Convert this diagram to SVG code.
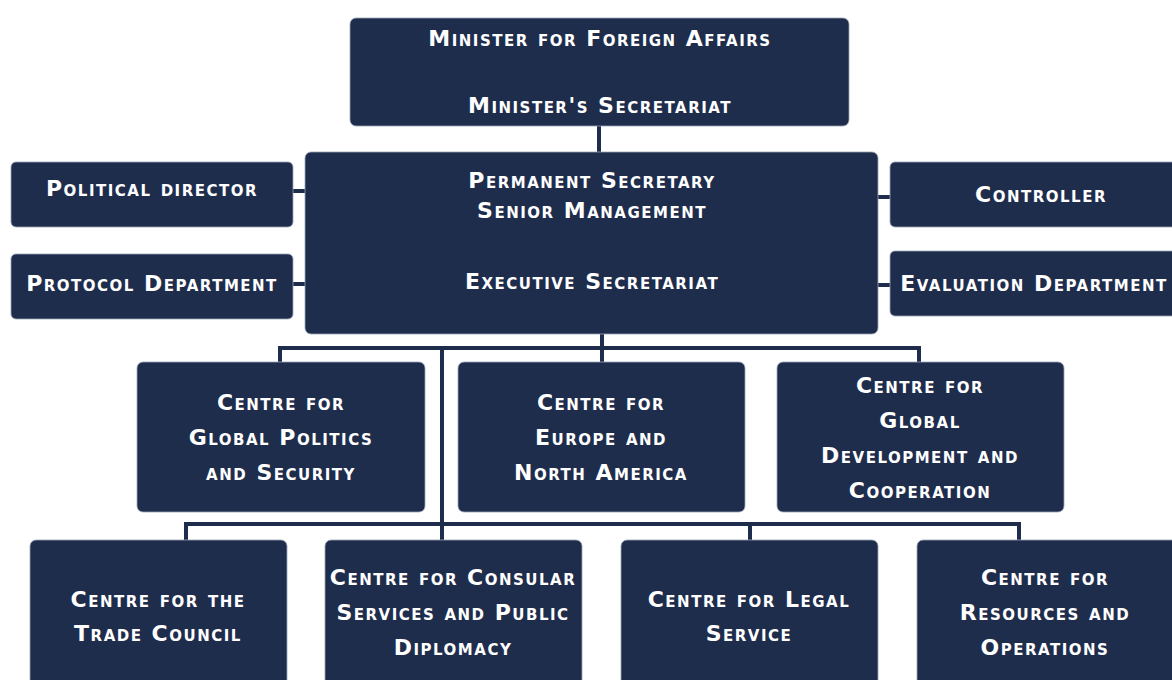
<svg xmlns="http://www.w3.org/2000/svg" width="1172" height="680" viewBox="0 0 1172 680">
<style>
.box{fill:#1f2d4d;stroke:#9aa3b5;stroke-width:0.8}
.t{font-family:"DejaVu Sans",sans-serif;font-weight:bold;font-variant:small-caps;font-size:22px;letter-spacing:1.5px;fill:#ffffff;text-anchor:middle}
.c{fill:none;stroke:#1f2d4d;stroke-width:4}
</style>
<rect width="1172" height="680" fill="#ffffff"/>
<g id="connectors">
<line class="c" x1="599" y1="126" x2="599" y2="153"/>
<line class="c" x1="293" y1="191" x2="306" y2="191"/>
<line class="c" x1="293" y1="284" x2="306" y2="284"/>
<line class="c" x1="877" y1="197" x2="891" y2="197"/>
<line class="c" x1="877" y1="285" x2="891" y2="285"/>
<line class="c" x1="602" y1="333" x2="602" y2="348"/>
<polyline class="c" points="280,363 280,348 919,348 919,363"/>
<line class="c" x1="602" y1="348" x2="602" y2="363"/>
<line class="c" x1="442" y1="348" x2="442" y2="541"/>
<polyline class="c" points="186,541 186,524 1019,524 1019,541"/>
<line class="c" x1="750" y1="524" x2="750" y2="541"/>
</g>
<g id="n-minister">
<rect class="box" x="350" y="18" width="499" height="108" rx="6"/>
<text class="t" x="600" y="46">Minister for Foreign Affairs</text>
<text class="t" x="600" y="113">Minister's Secretariat</text>
</g>
<g id="n-permsec">
<rect class="box" x="305" y="152" width="573" height="182" rx="6"/>
<text class="t" x="592" y="188">Permanent Secretary</text>
<text class="t" x="592" y="218">Senior Management</text>
<text class="t" x="592" y="289">Executive Secretariat</text>
</g>
<g id="n-political">
<rect class="box" x="11" y="162" width="282" height="65" rx="5"/>
<text class="t" x="152" y="196">Political director</text>
</g>
<g id="n-protocol">
<rect class="box" x="11" y="254" width="282" height="65" rx="5"/>
<text class="t" x="152" y="291">Protocol Department</text>
</g>
<g id="n-controller">
<rect class="box" x="890" y="162" width="300" height="65" rx="5"/>
<text class="t" x="1041" y="202">Controller</text>
</g>
<g id="n-evaluation">
<rect class="box" x="890" y="251" width="300" height="65" rx="5"/>
<text class="t" x="1034" y="291">Evaluation Department</text>
</g>
<g id="n-gps">
<rect class="box" x="137" y="362" width="288" height="150" rx="6"/>
<text class="t" x="281" y="410">Centre for</text>
<text class="t" x="281" y="445">Global Politics</text>
<text class="t" x="281" y="480">and Security</text>
</g>
<g id="n-ena">
<rect class="box" x="458" y="362" width="287" height="150" rx="6"/>
<text class="t" x="601" y="410">Centre for</text>
<text class="t" x="601" y="445">Europe and</text>
<text class="t" x="601" y="480">North America</text>
</g>
<g id="n-gdc">
<rect class="box" x="777" y="362" width="287" height="150" rx="6"/>
<text class="t" x="920" y="393">Centre for</text>
<text class="t" x="920" y="428">Global</text>
<text class="t" x="920" y="463">Development and</text>
<text class="t" x="920" y="498">Cooperation</text>
</g>
<g id="n-trade">
<rect class="box" x="30" y="540" width="257" height="160" rx="6"/>
<text class="t" x="158" y="607">Centre for the</text>
<text class="t" x="158" y="641">Trade Council</text>
</g>
<g id="n-consular">
<rect class="box" x="325" y="540" width="257" height="160" rx="6"/>
<text class="t" x="453" y="585">Centre for Consular</text>
<text class="t" x="453" y="620">Services and Public</text>
<text class="t" x="453" y="655">Diplomacy</text>
</g>
<g id="n-legal">
<rect class="box" x="621" y="540" width="257" height="160" rx="6"/>
<text class="t" x="749" y="607">Centre for Legal</text>
<text class="t" x="749" y="641">Service</text>
</g>
<g id="n-resources">
<rect class="box" x="917" y="540" width="270" height="160" rx="6"/>
<text class="t" x="1045" y="585">Centre for</text>
<text class="t" x="1045" y="620">Resources and</text>
<text class="t" x="1045" y="655">Operations</text>
</g>
</svg>
